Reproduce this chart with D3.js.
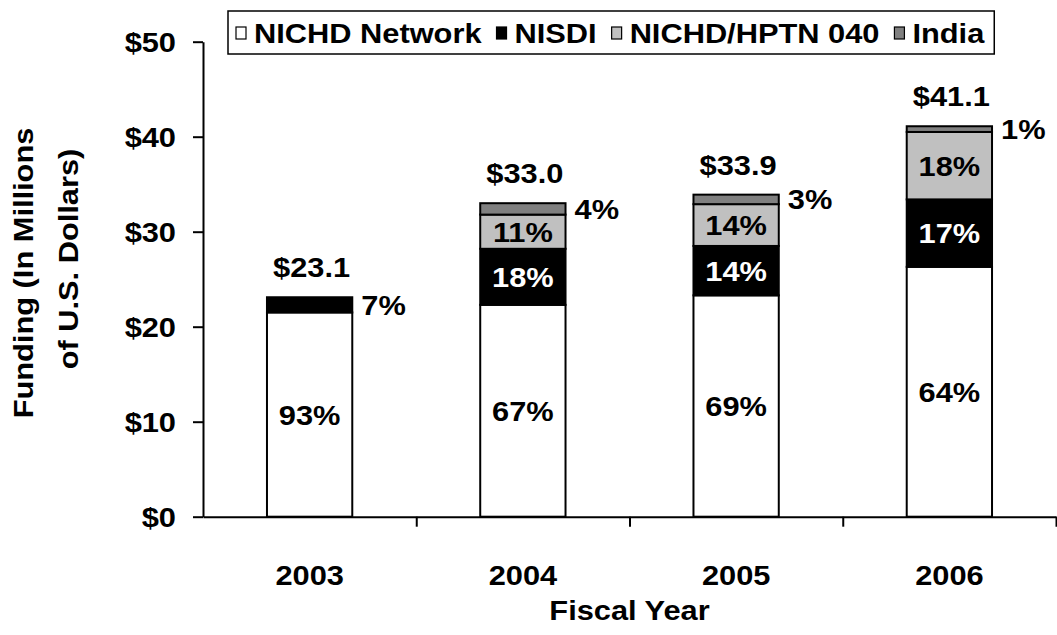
<!DOCTYPE html>
<html>
<head>
<meta charset="utf-8">
<script src="https://cdn.jsdelivr.net/npm/d3@7"></script>
<style>
    body { margin: 0; background: #fff; }
    svg text {
        font-family: "Liberation Sans", Arial, sans-serif;
        font-weight: bold;
        font-size: 28px;
    }
</style>
</head>
<body>
<svg id="chart" width="1057" height="635"></svg>
<script>
// Data (millions of US dollars)
const years = ['2003', '2004', '2005', '2006'];
const seriesNames = ['NICHD Network', 'NISDI', 'NICHD/HPTN 040', 'India'];
const nichdNetwork = [21.5, 22.3, 23.3, 26.3];
const nisdi = [1.6, 5.9, 5.2, 7.1];
const hptn040 = [0, 3.6, 4.4, 7.1];
const india = [0, 1.2, 1.0, 0.6];
const totalLabels = ['$23.1', '$33.0', '$33.9', '$41.1'];
const nichdPct = ['93%', '67%', '69%', '64%'];
const nisdiPct = ['7%', '18%', '14%', '17%'];
const hptnPct = [null, '11%', '14%', '18%'];
const indiaPct = [null, '4%', '3%', '1%'];
const yTicks = [0, 10, 20, 30, 40, 50];

const colors = ['#ffffff', '#000000', '#c0c0c0', '#808080'];
const textColors = ['#000', '#fff', '#000', '#000'];
const stretch = 1.1;

const svg = d3.select('#chart');

// Build table for the stack layout
const table = years.map((yr, i) => ({
    year: yr,
    [seriesNames[0]]: nichdNetwork[i],
    [seriesNames[1]]: nisdi[i],
    [seriesNames[2]]: hptn040[i],
    [seriesNames[3]]: india[i]
}));
const pctTable = [nichdPct, nisdiPct, hptnPct, indiaPct];

const stacked = d3.stack().keys(seriesNames)(table);

const y = d3.scaleLinear().domain([0, 50]).range([516.7, 41.7]);
const x = d3.scaleBand()
    .domain(years)
    .range([203, 1056])
    .paddingInner(0.6)
    .paddingOuter(0.3);
const xEdges = d3.scaleLinear().domain([0, years.length]).range([203, 1056]);

function addText(parent, px, py, str, anchor, color, rotate) {
    return parent.append('text')
        .attr('transform', `translate(${px},${py})${rotate ? ' rotate(-90)' : ''} scale(${stretch},1)`)
        .attr('text-anchor', anchor || 'middle')
        .style('fill', color || '#000')
        .text(str);
}

// Bars
stacked.forEach((layer, si) => {
    svg.append('g')
        .selectAll('rect')
        .data(layer.filter(d => d[1] - d[0] > 0))
        .enter()
        .append('rect')
        .attr('x', d => x(d.data.year))
        .attr('y', d => y(d[1]))
        .attr('width', x.bandwidth())
        .attr('height', d => y(d[0]) - y(d[1]))
        .attr('fill', colors[si])
        .attr('stroke', '#000')
        .attr('stroke-width', 2);
});

// Segment labels: top segment outside to the right, the rest inside
const labels = svg.append('g');
years.forEach((yr, i) => {
    const present = stacked.filter(layer => layer[i][1] - layer[i][0] > 0);
    const top = present[present.length - 1];
    stacked.forEach((layer, si) => {
        const d = layer[i];
        const txt = pctTable[si][i];
        if (!txt || d[1] - d[0] <= 0) return;
        const cy = (y(d[0]) + y(d[1])) / 2 + 10;
        if (layer === top) {
            addText(labels, x(yr) + x.bandwidth() + 9, cy, txt, 'start');
        } else {
            addText(labels, x(yr) + x.bandwidth() / 2, cy, txt, 'middle', textColors[si]);
        }
    });
    const total = stacked[stacked.length - 1][i][1];
    addText(labels, x(yr) + x.bandwidth() / 2 + 2, y(total) - 20, totalLabels[i]);
});

// Y axis
svg.append('g')
    .attr('transform', 'translate(203,0)')
    .call(d3.axisLeft(y).tickValues(yTicks).tickSize(10).tickSizeOuter(0).tickFormat(''))
    .call(g => g.selectAll('path, line').attr('stroke', '#000').attr('stroke-width', 2));
yTicks.forEach(t => addText(svg, 176, y(t) + 10, '$' + t, 'end'));

// X axis
svg.append('g')
    .attr('transform', `translate(0,${y(0)})`)
    .call(d3.axisBottom(xEdges).tickValues(d3.range(1, years.length + 1)).tickSize(10).tickSizeOuter(0).tickFormat(''))
    .call(g => g.selectAll('path, line').attr('stroke', '#000').attr('stroke-width', 2));
years.forEach(yr => addText(svg, x(yr) + x.bandwidth() / 2, 585, yr));

// Axis titles
addText(svg, 629.5, 620, 'Fiscal Year');
addText(svg, 33, 273, 'Funding (In Millions', 'middle', '#000', true);
addText(svg, 78, 259, 'of U.S. Dollars)', 'middle', '#000', true);

// Legend
const legend = svg.append('g');
const legendBox = legend.append('rect')
    .attr('x', 228).attr('y', 11)
    .attr('height', 43)
    .attr('fill', '#fff')
    .attr('stroke', '#000')
    .attr('stroke-width', 1.5);
let lx = 236;
seriesNames.forEach((name, i) => {
    legend.append('rect')
        .attr('x', lx).attr('y', 27)
        .attr('width', 10).attr('height', 12)
        .attr('fill', colors[i])
        .attr('stroke', '#000')
        .attr('stroke-width', 1.2);
    const t = addText(legend, lx + 18, 43, name, 'start');
    lx += 18 + t.node().getComputedTextLength() * stretch + 15;
});
legendBox.attr('width', lx - 228 - 5);
</script>
</body>
</html>
